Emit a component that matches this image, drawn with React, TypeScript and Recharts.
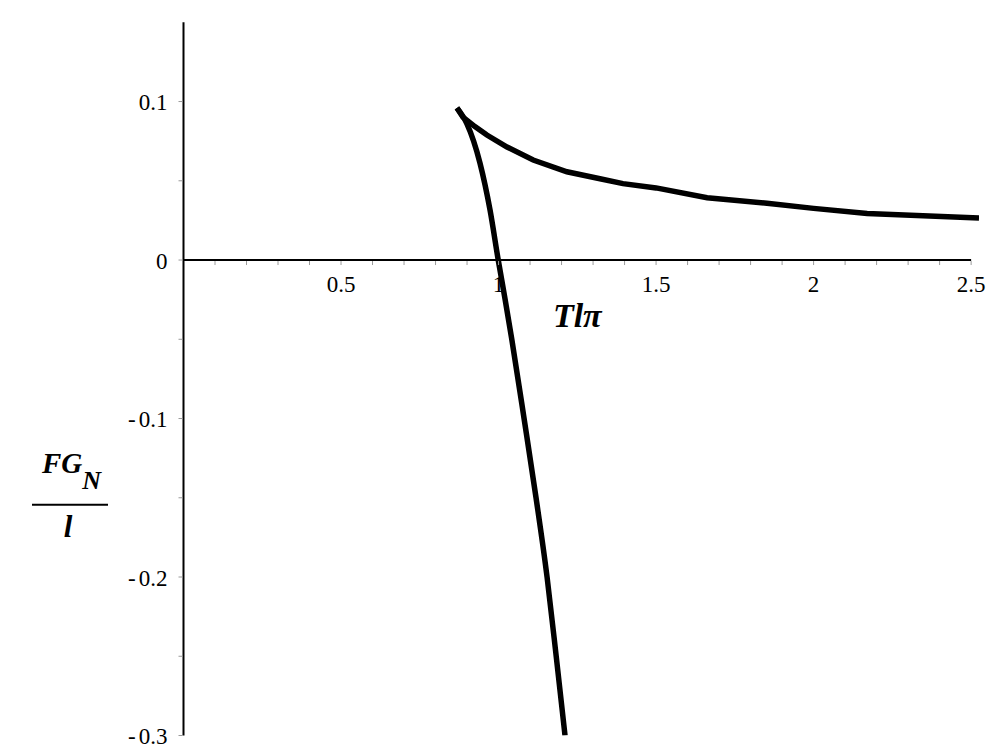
import React from 'react';
import { LineChart, Line, XAxis, YAxis, ReferenceLine, ReferenceDot } from 'recharts';

// Upper branch of the curve (T/π, F·G_N/l)
const upperT = [0.868, 0.887, 0.925, 0.963, 1.027, 1.110, 1.217, 1.322, 1.395, 1.500, 1.662, 1.852, 2.000, 2.170, 2.525];
const upperF = [0.0960, 0.0902, 0.0842, 0.0789, 0.0713, 0.0631, 0.0557, 0.0513, 0.0482, 0.0455, 0.0393, 0.0358, 0.0326, 0.0294, 0.0265];

// Lower branch of the curve
const lowerT = [0.868, 0.899, 0.941, 0.973, 0.999, 1.021, 1.042, 1.081, 1.119, 1.154, 1.183, 1.211];
const lowerF = [0.096, 0.0862, 0.0612, 0.0315, 0.0, -0.025, -0.05, -0.1, -0.15, -0.2, -0.25, -0.3];

// Axis ticks
const xMinorTicks = [0.1, 0.2, 0.3, 0.4, 0.5, 0.6, 0.7, 0.8, 0.9, 1.0, 1.1, 1.2, 1.3, 1.4, 1.5, 1.6, 1.7, 1.8, 1.9, 2.0, 2.1, 2.2, 2.3, 2.4, 2.5];
const xTickValues = [0.5, 1, 1.5, 2, 2.5];
const xTickLabels = ['0.5', '1', '1.5', '2', '2.5'];
const yMinorTicks = [0.1, 0.05, 0, -0.05, -0.1, -0.15, -0.2, -0.25, -0.3];
const yTickValues = [0.1, 0, -0.1, -0.2, -0.3];
const yTickLabels = ['0.1', '0', '-0.1', '-0.2', '-0.3'];

const xDomain: [number, number] = [0, 2.525];
const yDomain: [number, number] = [-0.3, 0.15];

const upperData = upperT.map((t, i) => ({ t, f: upperF[i] }));
const lowerData = lowerT.map((t, i) => ({ t, f: lowerF[i] }));

const FONT = "'Liberation Serif', 'Times New Roman', 'DejaVu Serif', serif";
const TICK_GRAY = '#9a9a9a';
const tickStyle: React.CSSProperties = { fontFamily: FONT, fontSize: 23 };
const titleStyle: React.CSSProperties = { fontFamily: FONT, fontWeight: 'bold', fontStyle: 'italic' };

export default function App() {
  return (
    <div style={{ position: 'absolute', left: 0, top: 0, background: '#fff', fontFamily: FONT }}>
      <LineChart width={989} height={754} margin={{ top: 22.3, right: 10, bottom: 18.5, left: 183.5 }}>
        <XAxis type="number" dataKey="t" domain={xDomain} allowDataOverflow hide />
        <YAxis type="number" dataKey="f" domain={yDomain} allowDataOverflow hide />

        {/* axes through the origin */}
        <ReferenceLine segment={[{ x: 0, y: -0.3 }, { x: 0, y: 0.15 }]} stroke="#000" strokeWidth={2} ifOverflow="visible" />
        <ReferenceLine segment={[{ x: 0, y: 0 }, { x: 2.5, y: 0 }]} stroke="#000" strokeWidth={2} ifOverflow="visible" />

        {xMinorTicks.map((v) => (
          <ReferenceDot key={'xm' + v} x={v} y={0} r={1} ifOverflow="visible"
            shape={(p: any) => <line x1={p.cx} y1={p.cy + 1} x2={p.cx} y2={p.cy + 5} stroke={TICK_GRAY} strokeWidth={1} />} />
        ))}
        {xTickValues.map((v, i) => (
          <ReferenceDot key={'xl' + v} x={v} y={0} r={1} ifOverflow="visible"
            shape={(p: any) => (
              <text x={p.cx} y={p.cy + 32} textAnchor="middle" style={tickStyle} fill="#000">{xTickLabels[i]}</text>
            )} />
        ))}
        {yMinorTicks.map((v) => (
          <ReferenceDot key={'ym' + v} x={0} y={v} r={1} ifOverflow="visible"
            shape={(p: any) => <line x1={p.cx - 5} y1={p.cy} x2={p.cx - 1} y2={p.cy} stroke={TICK_GRAY} strokeWidth={1} />} />
        ))}
        {yTickValues.map((v, i) => (
          <ReferenceDot key={'yl' + v} x={0} y={v} r={1} ifOverflow="visible"
            shape={(p: any) => {
              const lab = yTickLabels[i];
              const neg = lab.startsWith('-');
              return (
                <text x={p.cx - 16} y={p.cy + 8.5} textAnchor="end" style={tickStyle} fill="#000">
                  {neg ? (<><tspan>-</tspan><tspan dx={3}>{lab.slice(1)}</tspan></>) : lab}
                </text>
              );
            }} />
        ))}

        {/* axis titles */}
        <ReferenceDot x={1.25} y={0} r={1} ifOverflow="visible"
          shape={(p: any) => (
            <text x={p.cx} y={p.cy + 67} textAnchor="middle" style={{ ...titleStyle, fontSize: 34 }} fill="#000">Tlπ</text>
          )} />
        <ReferenceDot x={0} y={-0.15} r={1} ifOverflow="visible"
          shape={(p: any) => {
            const cx = p.cx - 113.5;
            const ly = p.cy + 7;
            return (
              <g>
                <text x={cx - 28} y={ly - 32} style={{ ...titleStyle, fontSize: 29 }} fill="#000">
                  FG<tspan dy={16} style={{ fontSize: 26 }}>N</tspan>
                </text>
                <line x1={cx - 38} y1={ly} x2={cx + 38} y2={ly} stroke="#000" strokeWidth={2} />
                <text x={cx - 2} y={ly + 32} textAnchor="middle" style={{ ...titleStyle, fontSize: 31 }} fill="#000">l</text>
              </g>
            );
          }} />

        <Line data={upperData} dataKey="f" type="linear" stroke="#000" strokeWidth={5.5} dot={false} isAnimationActive={false} />
        <Line data={lowerData} dataKey="f" type="monotone" stroke="#000" strokeWidth={5.5} dot={false} isAnimationActive={false} />
      </LineChart>
    </div>
  );
}
